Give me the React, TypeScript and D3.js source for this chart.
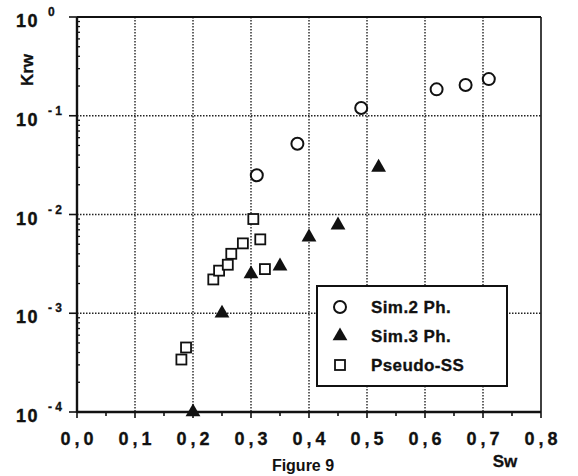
import React from "react";
import * as d3 from "d3";

// Sim.2 Ph. (open circles)
const sim2Sw = [0.31, 0.38, 0.49, 0.62, 0.67, 0.71];
const sim2Krw = [0.025, 0.052, 0.12, 0.185, 0.205, 0.235];

// Sim.3 Ph. (filled triangles)
const sim3Sw = [0.2, 0.25, 0.3, 0.35, 0.4, 0.45, 0.52];
const sim3Krw = [0.0001, 0.001, 0.0025, 0.003, 0.0059, 0.0078, 0.03];

// Pseudo-SS (open squares)
const pssSw = [0.18, 0.188, 0.235, 0.245, 0.26, 0.266, 0.286, 0.304, 0.316, 0.324];
const pssKrw = [0.00034, 0.00045, 0.0022, 0.0027, 0.0031, 0.004, 0.0051, 0.009, 0.0056, 0.0028];

const xTicks = [0, 0.1, 0.2, 0.3, 0.4, 0.5, 0.6, 0.7, 0.8];
const yTicks = [1, 0.1, 0.01, 0.001, 0.0001];
const yExp = ["0", "- 1", "- 2", "- 3", "- 4"];
const legendLabels = ["Sim.2 Ph.", "Sim.3 Ph.", "Pseudo-SS"];

const W = 578;
const H = 476;
const L = 77;
const R = 541;
const T = 17;
const B = 412;
const font = "'Liberation Sans', Arial, Helvetica, sans-serif";

const App = () => {
  const x = d3.scaleLinear().domain([0, 0.8]).range([L, R]);
  const y = d3.scaleLog().domain([1e-4, 1]).range([B, T]);

  const minorY: number[] = [];
  for (let e = -4; e < 0; e++) {
    for (let m = 2; m <= 9; m++) minorY.push(m * Math.pow(10, e));
  }
  const minorX = d3.range(0.05, 0.8, 0.1);

  const tri = d3.symbol().type(d3.symbolTriangle).size(95);

  const marker = (k: number, cx: number, cy: number) => {
    if (k === 0) return <circle cx={cx} cy={cy} r={6} fill="white" stroke="#111" strokeWidth={2} />;
    if (k === 1) return <path d={tri() || ""} transform={`translate(${cx},${cy})`} fill="#111" />;
    return <rect x={cx - 5} y={cy - 5} width={10} height={10} fill="white" stroke="#111" strokeWidth={1.8} />;
  };

  return (
    <svg width={W} height={H} style={{ position: "absolute", left: 0, top: 0, background: "white" }} fontFamily={font}>
      {/* grid */}
      {xTicks.slice(1, -1).map((t) => (
        <line key={"gx" + t} x1={x(t)} x2={x(t)} y1={T} y2={B} stroke="#222" strokeWidth={1.4} strokeDasharray="1.5,1.5" />
      ))}
      {yTicks.slice(1, -1).map((t) => (
        <line key={"gy" + t} x1={L} x2={R} y1={y(t)} y2={y(t)} stroke="#222" strokeWidth={1.4} strokeDasharray="1.5,1.5" />
      ))}

      {/* frame */}
      <line x1={L} x2={R} y1={T} y2={T} stroke="#111" strokeWidth={2.2} />
      <line x1={R} x2={R} y1={T} y2={B} stroke="#111" strokeWidth={1.6} />
      <line x1={L} x2={L} y1={T} y2={B + 1} stroke="#111" strokeWidth={2.4} />
      <line x1={L} x2={R} y1={B} y2={B} stroke="#111" strokeWidth={2.4} />

      {/* y ticks */}
      {yTicks.map((t) => (
        <line key={"ty" + t} x1={L - 8} x2={L} y1={y(t)} y2={y(t)} stroke="#111" strokeWidth={1.6} />
      ))}
      {minorY.map((t, i) => (
        <line key={"my" + i} x1={L} x2={L + 3} y1={y(t)} y2={y(t)} stroke="#111" strokeWidth={1.3} />
      ))}
      {/* x ticks */}
      {xTicks.map((t) => (
        <line key={"tx" + t} x1={x(t)} x2={x(t)} y1={B} y2={B + 6} stroke="#111" strokeWidth={1.6} />
      ))}
      {minorX.map((t, i) => (
        <line key={"mx" + i} x1={x(t)} x2={x(t)} y1={B} y2={B + 4} stroke="#111" strokeWidth={1.6} />
      ))}

      {/* y tick labels */}
      {yTicks.map((t, i) => (
        <g key={"ly" + t} fontWeight="bold" fill="#111">
          <text x={16} y={y(t) + 10} fontSize={18} letterSpacing={1.5} stroke="#111" strokeWidth={0.4}>10</text>
          <text x={48} y={y(t) - 1} fontSize={12} stroke="#111" strokeWidth={0.3}>{yExp[i]}</text>
        </g>
      ))}
      {/* x tick labels */}
      {xTicks.map((t) => (
        <text key={"lx" + t} x={x(t) + 2} y={445} fontSize={18} fontWeight="bold" textAnchor="middle" fill="#111" letterSpacing={4} stroke="#111" strokeWidth={0.3}>
          {d3.format(".1f")(t).replace(".", ",")}
        </text>
      ))}

      <text transform="translate(33,70) rotate(-90)" textAnchor="middle" fontSize={17} fontWeight="bold" fill="#111" stroke="#111" strokeWidth={0.3}>Krw</text>
      <text x={505} y={467} textAnchor="middle" fontSize={17} fontWeight="bold" fill="#111" stroke="#111" strokeWidth={0.3}>Sw</text>
      <text x={303} y={471} textAnchor="middle" fontSize={16} fontWeight="bold" fill="#111">Figure 9</text>

      {/* data */}
      {pssSw.map((v, i) => <g key={"p" + i}>{marker(2, x(v), y(pssKrw[i]))}</g>)}
      {sim3Sw.map((v, i) => <g key={"s3" + i}>{marker(1, x(v), y(sim3Krw[i]))}</g>)}
      {sim2Sw.map((v, i) => <g key={"s2" + i}>{marker(0, x(v), y(sim2Krw[i]))}</g>)}

      {/* legend */}
      <rect x={317} y={286} width={190} height={100} fill="white" stroke="#111" strokeWidth={2} />
      {legendLabels.map((lab, i) => (
        <g key={lab}>
          {marker(i, 340, 307 + i * 29)}
          <text x={371} y={313 + i * 29} fontSize={17} fontWeight="bold" fill="#111" letterSpacing={0.4} stroke="#111" strokeWidth={0.3}>{lab}</text>
        </g>
      ))}
    </svg>
  );
};

export default App;
